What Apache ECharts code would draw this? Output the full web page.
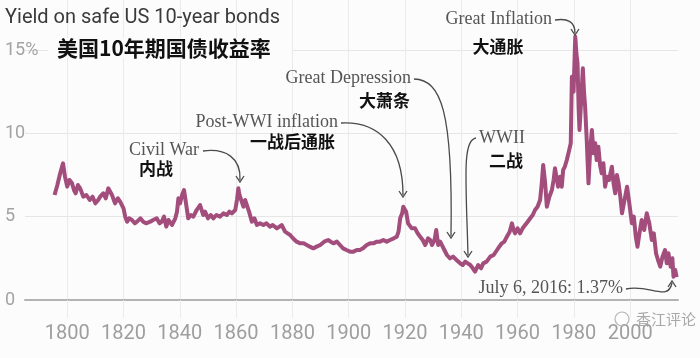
<!DOCTYPE html>
<html><head><meta charset="utf-8">
<script src="https://cdn.jsdelivr.net/npm/echarts@6/dist/echarts.min.js"></script>
<style>html,body{margin:0;padding:0;background:#fcfcfc}#c{width:700px;height:358px}</style>
</head><body><div id="c"></div>
<script>
const years = [1795.5,1796.5,1797.5,1798.5,1799.2,1800,1800.8,1801.7,1802.4,1803,1803.8,1804.6,1805.7,1806.8,1808,1809,1810,1811,1811.7,1812.8,1813.7,1814.6,1815.9,1817,1818,1818.8,1820,1820.6,1821.3,1822,1823,1824,1824.8,1826,1827,1828,1829.5,1830.5,1831.8,1832.8,1833.6,1834.4,1835.2,1836,1837.2,1838.4,1839,1839.5,1840.1,1840.8,1841.5,1842.2,1843,1844,1844.8,1846,1847.2,1848.3,1849,1850,1851,1851.9,1853,1854.3,1855.5,1856.7,1857.6,1858.5,1859.7,1860.3,1860.8,1861.2,1861.7,1862.6,1863.2,1863.8,1864.6,1865.6,1866.5,1867.4,1868.5,1869.7,1870.8,1872,1873,1874.5,1875.4,1876.2,1877.4,1878.3,1879.2,1880.2,1881.5,1882.8,1884,1885.1,1886.2,1887.4,1888.6,1889.9,1891.3,1892.7,1893.6,1894.6,1895.8,1896.9,1898,1899.2,1900.5,1901.7,1902.9,1904,1905.1,1906.4,1907.6,1908.8,1910,1911.1,1912.3,1913.5,1914.7,1916,1917.1,1917.7,1918.3,1919,1919.4,1919.9,1920.4,1921.1,1921.8,1922.4,1923.6,1924.5,1925.4,1926.3,1927.2,1928.2,1929,1929.6,1930.5,1931.1,1931.8,1932.5,1933.1,1934,1934.9,1936,1937.1,1938.3,1939.6,1940.5,1941.4,1942.3,1943.2,1944.1,1944.9,1946,1947,1947.8,1949,1950.3,1951.5,1952.7,1953.5,1954.4,1955.3,1956.2,1957.2,1958,1958.6,1959.1,1960,1960.9,1961.8,1962.7,1963.6,1964.5,1965.4,1966.2,1967.1,1968,1968.6,1969.1,1969.8,1970.4,1971.3,1972.2,1972.8,1973.3,1974,1974.4,1975.1,1975.7,1976.2,1976.8,1977.5,1978.2,1978.9,1979.3,1979.9,1980.5,1980.9,1981.3,1981.7,1982,1982.6,1983.2,1983.6,1984,1984.6,1985.2,1985.8,1986.4,1987,1987.6,1988.1,1988.7,1989.3,1989.9,1990.5,1991.1,1991.8,1992.5,1993.5,1994.1,1994.7,1995.3,1995.9,1996.5,1997.1,1998,1998.9,1999.7,2000.6,2001.3,2002,2002.6,2003.3,2004.1,2005,2005.9,2006.8,2007.7,2008.4,2009.2,2009.9,2010.7,2011.5,2012.4,2013,2013.6,2014.4,2015,2015.4,2016,2016.5];
const yields = [6.3,6.9,7.6,8.2,7.4,6.8,7.2,7.0,6.6,6.4,6.9,6.7,6.2,6.3,6.0,6.2,5.8,6.0,6.2,6.4,6.1,6.7,6.3,5.8,6.1,5.9,5.5,5.0,4.7,4.9,4.8,4.6,4.7,4.9,4.7,4.6,4.7,4.8,4.9,4.6,4.7,5.0,4.4,4.8,4.5,4.9,5.3,6.1,5.8,6.3,6.6,5.8,4.9,5.1,5.0,5.4,5.7,5.1,5.3,4.9,5.1,4.9,5.1,5.0,5.2,5.1,5.3,5.2,5.4,6.0,6.7,6.3,6.4,5.6,6.0,5.7,5.3,4.7,4.9,4.5,4.6,4.5,4.6,4.4,4.5,4.3,4.4,4.5,4.1,4.0,3.9,3.7,3.5,3.4,3.4,3.3,3.2,3.1,3.2,3.3,3.5,3.6,3.5,3.4,3.5,3.3,3.1,3.0,2.9,2.9,3.0,3.0,3.1,3.3,3.4,3.4,3.5,3.5,3.6,3.5,3.6,3.7,3.8,4.1,4.9,5.2,5.6,5.5,5.3,4.6,4.5,4.3,4.3,4.0,3.8,3.6,3.3,3.7,3.6,3.3,3.6,4.2,3.3,3.5,3.5,3.0,2.7,2.5,2.6,2.4,2.2,2.1,2.3,2.2,2.1,1.9,1.7,2.1,1.9,2.2,2.3,2.6,2.7,3.0,3.2,3.4,3.5,3.8,4.1,4.6,4.2,4.0,4.3,4.0,4.3,4.5,4.7,4.9,5.1,5.4,5.6,6.0,7.0,8.1,7.0,5.6,6.2,6.6,7.2,7.9,8.0,6.8,7.4,6.8,7.8,8.0,8.4,8.9,9.4,13.4,12.5,15.8,14.8,14.2,11.5,10.2,12.0,13.9,12.5,11.6,9.5,7.0,9.0,10.2,8.8,9.4,8.4,9.2,8.1,7.6,8.2,6.8,7.4,7.2,8.0,7.0,6.4,7.5,7.0,6.2,5.2,6.0,6.8,5.8,4.6,5.0,3.8,3.2,4.0,4.8,4.2,5.2,4.6,3.6,4.0,2.8,2.4,2.0,2.6,3.0,2.2,2.8,2.0,2.5,1.4,1.8,1.37];
const xTicks = [1800,1820,1840,1860,1880,1900,1920,1940,1960,1980,2000];
const yTicks = [0,5,10,15];

const chart = echarts.init(document.getElementById('c'), null, {renderer:'canvas'});
const serif = "'Liberation Serif', serif";
const cjk = "'Noto Sans CJK SC', sans-serif";
const annColor = '#4a4a4a';
function txt(text, x, y, font, fill, align){
  return {type:'text', z:100, style:{text, x, y, font, fill, align: align||'left', verticalAlign:'middle'}};
}
function curve(x1,y1,cx1,cy1,cx2,cy2,x2,y2){
  return {type:'bezierCurve', z:100, shape:{x1,y1,cpx1:cx1,cpy1:cy1,cpx2:cx2,cpy2:cy2,x2,y2}, style:{stroke:annColor, lineWidth:1.3, fill:null}};
}
function head(x,y,dir){
  const d = dir==='up' ? -1 : 1;
  return {type:'polyline', z:100, shape:{points:[[x-4,y-6*d],[x,y],[x+4,y-6*d]]}, style:{stroke:annColor, lineWidth:1.3, fill:null}};
}
const option = {
  backgroundColor:'#fcfcfc',
  animation:false,
  grid:{left:25, right:22, top:0, bottom:58},
  xAxis:{type:'value', min:1785, max:2017,
    axisLine:{show:true, onZero:false, lineStyle:{color:'#b3b3b3', width:2}},
    axisTick:{show:true, customValues:xTicks, length:18, lineStyle:{color:'#ebebeb', width:1}},
    splitLine:{show:true, lineStyle:{color:'#ebebeb', width:1}},
    axisLabel:{customValues:xTicks, color:'#9e9e9e', fontSize:20, fontFamily:"Roboto, sans-serif", margin:24,
      formatter:v => String(v)}
  },
  yAxis:{type:'value', min:0, max:18,
    axisLine:{show:false},
    axisTick:{show:false, customValues:yTicks},
    splitLine:{show:true, lineStyle:{color:'#e6e6e6', width:1}},
    axisLabel:{customValues:yTicks, color:'#a3a3a3', fontSize:18, fontFamily:'Roboto, sans-serif', align:'left', margin:20,
      formatter:v => v===15 ? '15%' : String(v)}
  },
  series:[{type:'line', data: years.map((y,i)=>[y, yields[i]]), showSymbol:false, clip:false,
    lineStyle:{color:'#a24d7c', width:4, join:'round'}, z:5}],
  graphic:[
    {type:'rect', z:50, shape:{x:48, y:38, width:244, height:20}, style:{fill:'#fcfcfc'}},
    txt('Yield on safe US 10-year bonds', 5, 18, "20px Roboto, sans-serif", '#3a3a3a'),
    txt('美国10年期国债收益率', 57, 48, "bold 21px "+cjk, '#111'),
    txt('Civil War', 199, 150, "18px "+serif, '#555', 'right'),
    txt('内战', 156, 169, "bold 17px "+cjk, '#111', 'center'),
    txt('Post-WWI inflation', 338, 122, "18px "+serif, '#555', 'right'),
    txt('一战后通胀', 335, 142, "bold 17px "+cjk, '#111', 'right'),
    txt('Great Depression', 411, 78, "18px "+serif, '#555', 'right'),
    txt('大萧条', 410, 101, "bold 17px "+cjk, '#111', 'right'),
    txt('WWII', 479, 138, "18px "+serif, '#555', 'left'),
    txt('二战', 523, 161, "bold 17px "+cjk, '#111', 'right'),
    txt('Great Inflation', 552, 19, "18px "+serif, '#555', 'right'),
    txt('大通胀', 498, 47, "bold 17px "+cjk, '#111', 'center'),
    txt('July 6, 2016: 1.37%', 623, 288, "18px "+serif, '#555', 'right'),
    curve(203,151,226,148,241,158,240,180), head(240,182,'down'),
    curve(341,123,378,121,403,145,403,195), head(403,197,'down'),
    curve(414,79,441,80,453,110,451,236), head(451,238,'down'),
    curve(476,138,462,140,466,180,468,255), head(468,257,'down'),
    curve(555,20,568,18,575,22,575,33), head(575,35,'down'),
    curve(626,289,650,284,668,302,672,283), head(672,281,'up'),
    {type:'circle', z:100, shape:{cx:622, cy:319, r:7}, style:{fill:null, stroke:'#b5b5b5', lineWidth:1.2}},
    txt('香江评论', 636, 319, "15px "+cjk, '#a8a8a8', 'left')
  ]
};
chart.setOption(option);
</script></body></html>
